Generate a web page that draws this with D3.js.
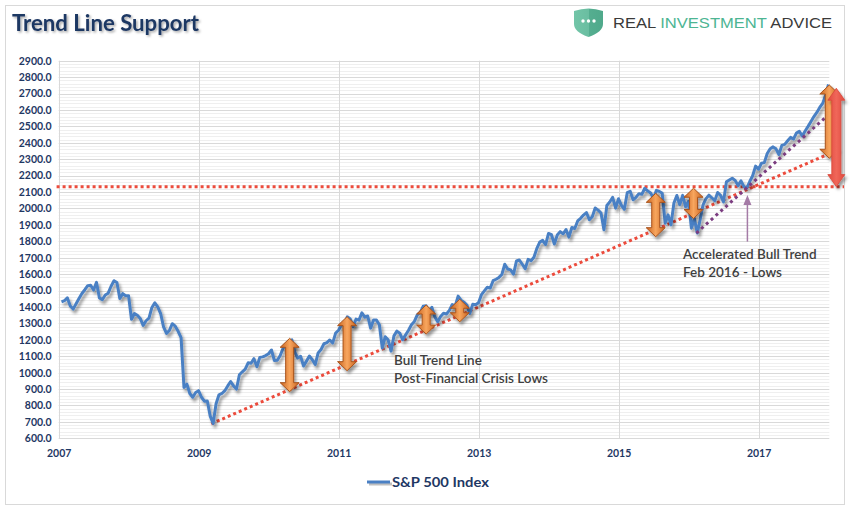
<!DOCTYPE html>
<html><head><meta charset="utf-8">
<script src="https://cdn.jsdelivr.net/npm/d3@7"></script>
<style>body{margin:0;background:#fff}svg{display:block}</style>
</head><body>
<svg id="chart" width="852" height="510"></svg>
<script>
// ---------- data ----------
const startYear = 2007;
// S&P 500 Index, two readings per month (mid-month, month-end), Jan 2007 - Dec 2017
const spx = [
 1431,1438,1456,1406,1387,1420,1452,1482,1505,1530,1532,1503,1550,1455,1445,1473,1484,1526,1560,1549,1451,1481,1468,1468,
 1325,1360,1349,1330,1288,1316,1332,1397,1425,1400,1360,1278,1239,1257,1298,1283,1252,1213,910,930,873,850,879,890,
 850,826,827,735,690,810,865,873,890,919,946,919,900,987,1005,1021,1060,1057,1085,1036,1093,1096,1104,1115,
 1138,1074,1075,1104,1150,1169,1192,1200,1125,1089,1100,1040,1070,1101,1079,1049,1120,1141,1176,1183,1199,1181,1241,1258,
 1293,1286,1340,1327,1280,1326,1320,1364,1338,1345,1271,1321,1320,1292,1150,1219,1200,1131,1224,1253,1240,1200,1230,1258,
 1292,1312,1352,1366,1404,1408,1370,1398,1340,1310,1342,1362,1357,1379,1415,1407,1466,1441,1429,1412,1360,1416,1413,1426,
 1475,1498,1520,1515,1560,1569,1580,1598,1660,1631,1626,1600,1680,1686,1660,1633,1690,1682,1703,1757,1795,1806,1780,1848,
 1840,1783,1838,1859,1845,1872,1825,1884,1878,1924,1940,1960,1975,1931,1950,2003,1990,1972,1870,2018,2039,2068,2002,2059,
 2019,1995,2096,2105,2053,2068,2090,2086,2123,2107,2094,2063,2110,2104,2092,1910,1961,1900,2033,2079,2023,2080,2010,2044,
 1880,1940,1850,1932,2022,2060,2081,2065,2047,2097,2080,2040,2162,2173,2184,2171,2139,2168,2133,2126,2164,2199,2258,2239,
 2275,2279,2335,2364,2375,2363,2329,2384,2390,2412,2433,2423,2459,2470,2441,2472,2500,2530,2560,2585,2615,2640,2690,2755
];
const seriesName = "S&P 500 Index";
const xTickYears = [2007, 2009, 2011, 2013, 2015, 2017];
const yMin = 600, yMax = 2900, yMajor = 100, yMinor = 20;

// annotations (fractional year, index level)
const bullTrend = [[2009.18, 688], [2018.07, 2345]];
const accelTrend = [[2016.11, 1850], [2018.09, 2606]];
const resistance = [[2006.97, 2132], [2018.22, 2132]];
const orangeArrows = [[2010.30, 884, 1209], [2011.12, 1012, 1341], [2012.25, 1235, 1412], [2012.73, 1310, 1447],
                      [2015.53, 1828, 2092], [2016.07, 1939, 2123], [2018.01, 2306, 2752]];
const redArrows = [[2018.11, 2133, 2732]];
const pointer = [2016.84, 1798, 2082];
const notes = [
  {t: 2011.79, v: 1046, lines: ["Bull Trend Line", "Post-Financial Crisis Lows"], w: 153},
  {t: 2015.92, v: 1692, lines: ["Accelerated Bull Trend", "Feb 2016 - Lows"], w: 137}
];

// ---------- chart ----------
const svg = d3.select("#chart");
const FONT = "Lato, 'Open Sans', sans-serif";
const navy = "#1F3864";

const defs = svg.append("defs");
const sh = defs.append("filter").attr("id","shadow").attr("x","-30%").attr("y","-30%").attr("width","160%").attr("height","160%");
sh.append("feDropShadow").attr("dx",2).attr("dy",3).attr("stdDeviation",1.4).attr("flood-color","#000").attr("flood-opacity",0.4);
const tsh = defs.append("filter").attr("id","tshadow").attr("x","-10%").attr("y","-30%").attr("width","120%").attr("height","160%");
tsh.append("feDropShadow").attr("dx",1.5).attr("dy",1.5).attr("stdDeviation",1).attr("flood-color","#000").attr("flood-opacity",0.35);
const og = defs.append("linearGradient").attr("id","orangeGrad").attr("x1","0").attr("x2","1").attr("y1","0").attr("y2","0");
og.append("stop").attr("offset","0%").attr("stop-color","#C8621E");
og.append("stop").attr("offset","50%").attr("stop-color","#F8A65E");
og.append("stop").attr("offset","100%").attr("stop-color","#C8621E");
const rg = defs.append("linearGradient").attr("id","redGrad").attr("x1","0").attr("x2","1").attr("y1","0").attr("y2","0");
rg.append("stop").attr("offset","0%").attr("stop-color","#E04A3E");
rg.append("stop").attr("offset","50%").attr("stop-color","#F0675A");
rg.append("stop").attr("offset","100%").attr("stop-color","#E04A3E");
const shg = defs.append("linearGradient").attr("id","shieldGrad").attr("x1","0").attr("x2","1").attr("y1","0").attr("y2","0");
shg.append("stop").attr("offset","0%").attr("stop-color","#72C5A8");
shg.append("stop").attr("offset","50%").attr("stop-color","#6ABEA1");
shg.append("stop").attr("offset","51%").attr("stop-color","#55AE90");
shg.append("stop").attr("offset","100%").attr("stop-color","#4FA98B");

// outer frame
svg.append("rect").attr("x",5.5).attr("y",5.5).attr("width",839).attr("height",499)
  .attr("fill","#fff").attr("stroke","#D9D9D9").attr("stroke-width",1);

// scales
const x = d3.scaleLinear().domain([startYear, 2018.01]).range([58.7, 829.3]);
const y = d3.scaleLinear().domain([yMin, yMax]).range([438.3, 60.7]);
const tOf = i => startYear + (Math.floor(i/2) + (i % 2 ? 0.98 : 0.48)) / 12;
const data = spx.map((v,i) => ({t: tOf(i), v}));

// gridlines
const g = svg.append("g");
const minorVals = d3.range(yMin, yMax + 0.1, yMinor).filter(v => v % yMajor !== 0);
g.selectAll(".minor").data(minorVals).join("line")
  .attr("x1", x.range()[0]).attr("x2", x.range()[1])
  .attr("y1", d => Math.round(y(d)) + 0.5).attr("y2", d => Math.round(y(d)) + 0.5)
  .attr("stroke", "#EFEFEF").attr("stroke-width", 1);
const majorVals = d3.range(yMin, yMax + 0.1, yMajor);
g.selectAll(".major").data(majorVals).join("line")
  .attr("x1", x.range()[0]).attr("x2", x.range()[1])
  .attr("y1", d => Math.round(y(d)) + 0.5).attr("y2", d => Math.round(y(d)) + 0.5)
  .attr("stroke", "#D9D9D9").attr("stroke-width", 1);
g.selectAll(".vgrid").data(xTickYears).join("line")
  .attr("x1", d => Math.round(x(d)) + 0.5).attr("x2", d => Math.round(x(d)) + 0.5)
  .attr("y1", y(yMax)).attr("y2", y(yMin))
  .attr("stroke", "#D9D9D9").attr("stroke-width", 1);

// axes
const yAxis = d3.axisLeft(y).tickValues(majorVals).tickFormat(d3.format(".1f")).tickSize(0).tickPadding(7);
const ya = svg.append("g").attr("transform", `translate(${x.range()[0]},0)`).call(yAxis);
ya.select(".domain").remove();
ya.selectAll("text").attr("font-family", FONT).attr("font-weight", "bold").attr("font-size", "10.5px").attr("fill", navy);

const xAxis = d3.axisBottom(x).tickValues(xTickYears).tickFormat(d3.format("d")).tickSize(0).tickPadding(11);
const xa = svg.append("g").attr("transform", `translate(0,${y(yMin)})`).call(xAxis);
xa.select(".domain").remove();
xa.selectAll("text").attr("font-family", FONT).attr("font-weight", "bold").attr("font-size", "10.5px").attr("fill", navy);

// dotted reference lines
const seg = d3.line().x(d => x(d[0])).y(d => y(d[1]));
svg.append("path").attr("d", seg(resistance)).attr("fill","none").attr("stroke","#EC4B3C")
  .attr("stroke-width",3).attr("stroke-dasharray","3,3");
svg.append("path").attr("d", seg(bullTrend)).attr("fill","none").attr("stroke","#EC4B3C")
  .attr("stroke-width",3).attr("stroke-dasharray","3,3");

// series line
const line = d3.line().x(d => x(d.t)).y(d => y(d.v)).curve(d3.curveLinear);
svg.append("path").datum(data).attr("d", line).attr("fill","none").attr("stroke","#4A80C4")
  .attr("stroke-width",3).attr("stroke-linejoin","round").attr("filter","url(#shadow)");

svg.append("path").attr("d", seg(accelTrend)).attr("fill","none").attr("stroke","#7B3D80")
  .attr("stroke-width",3).attr("stroke-dasharray","3,3.5");

// double arrows
function dblArrow(cx, yt, yb, hw, hh, sw) {
  return `M${cx},${yt} L${cx+hw/2},${yt+hh} L${cx+sw/2},${yt+hh} L${cx+sw/2},${yb-hh} L${cx+hw/2},${yb-hh} L${cx},${yb}`
    + ` L${cx-hw/2},${yb-hh} L${cx-sw/2},${yb-hh} L${cx-sw/2},${yt+hh} L${cx-hw/2},${yt+hh} Z`;
}
svg.append("g").selectAll("path").data(orangeArrows).join("path")
  .attr("d", d => dblArrow(x(d[0]), y(d[2]), y(d[1]), 19, 9, 8))
  .attr("fill","url(#orangeGrad)").attr("stroke","#A9531C").attr("stroke-width",1)
  .attr("filter","url(#shadow)");
svg.append("g").selectAll("path").data(redArrows).join("path")
  .attr("d", d => dblArrow(x(d[0]), y(d[2]), y(d[1]), 17, 12, 9))
  .attr("fill","url(#redGrad)").attr("stroke","#D9463A").attr("stroke-width",0.8)
  .attr("filter","url(#shadow)");

// pointer arrow
const px = x(pointer[0]), pyB = y(pointer[1]), pyT = y(pointer[2]);
svg.append("line").attr("x1",px).attr("x2",px).attr("y1",pyB).attr("y2",pyT+8)
  .attr("stroke","#A47BA6").attr("stroke-width",1.5);
svg.append("path").attr("d",`M${px},${pyT} L${px+4},${pyT+10} L${px-4},${pyT+10} Z`).attr("fill","#A47BA6");

// notes
notes.forEach(n => {
  n.lines.forEach((l,i) => {
    const t = svg.append("text").attr("x", x(n.t)).attr("y", y(n.v) + i * 18)
      .attr("font-family", FONT).attr("font-size","13.5px").attr("font-weight","600").attr("fill","#404040").text(l);
    if (i === 0 && n.lines.length) {}
  });
});

// title
svg.append("text").attr("x",12).attr("y",31).text("Trend Line Support")
  .attr("font-family", FONT).attr("font-weight","bold").attr("font-size","23px").attr("fill",navy)
  .attr("textLength",187).attr("lengthAdjust","spacingAndGlyphs").attr("filter","url(#tshadow)");

// logo
svg.append("path").attr("d","M574,11 Q588.5,6 603,11 L603,24 Q603,32 588.5,37 Q574,32 574,24 Z").attr("fill","url(#shieldGrad)");
svg.append("g").selectAll("circle").data([-5.5,0,5.5]).join("circle")
  .attr("cx", d => 588.5 + d).attr("cy", 21).attr("r", 1.7).attr("fill","#fff");
const logo = svg.append("text").attr("x",613).attr("y",27.5).attr("font-family","'Liberation Sans', Arial, sans-serif")
  .attr("font-size","15.5px").attr("font-weight","normal").attr("textLength",219).attr("lengthAdjust","spacingAndGlyphs");
logo.append("tspan").text("REAL ").attr("fill","#3A3A3A");
logo.append("tspan").text("INVESTMENT ").attr("fill","#4DB593");
logo.append("tspan").text("ADVICE").attr("fill","#3A3A3A");

// legend
svg.append("line").attr("x1",369).attr("x2",392).attr("y1",484).attr("y2",484)
  .attr("stroke","#000").attr("stroke-opacity",0.25).attr("stroke-width",3);
svg.append("line").attr("x1",367).attr("x2",390).attr("y1",482).attr("y2",482)
  .attr("stroke","#4A80C4").attr("stroke-width",3);
svg.append("text").attr("x",392).attr("y",487).text(seriesName)
  .attr("font-family", FONT).attr("font-weight","bold").attr("font-size","14px").attr("fill",navy)
  .attr("textLength",97).attr("lengthAdjust","spacingAndGlyphs");
</script>
</body></html>
